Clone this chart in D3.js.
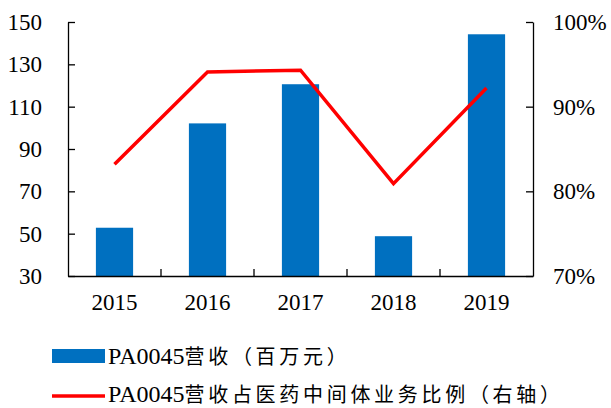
<!DOCTYPE html>
<html>
<head>
<meta charset="utf-8">
<script src="https://cdn.jsdelivr.net/npm/d3@7/dist/d3.min.js"></script>
<style>
  html, body { margin: 0; padding: 0; background: #fff; }
  svg { display: block; }
  .tick text { font-family: "Liberation Serif", "Times New Roman", serif; font-size: 23px; fill: #000; }
</style>
</head>
<body>
<svg id="chart" width="611" height="408"></svg>
<script>
// Revenue of PA0045 (million yuan) and its share of pharma-intermediate business
const years = ["2015", "2016", "2017", "2018", "2019"];
const revenue = [52.8, 102.1, 120.6, 48.8, 144.2];
const share = [0.832, 0.941, 0.943, 0.809, 0.922];
const leftTicks = [30, 50, 70, 90, 110, 130, 150];
const rightTicks = [0.7, 0.8, 0.9, 1.0];
const legendLabels = ["PA0045营收（百万元）", "PA0045营收占医药中间体业务比例（右轴）"];

const svg = d3.select("#chart");
const m = { left: 68, right: 533, top: 22, bottom: 276 };

const x = d3.scaleBand().domain(years).range([m.left, m.right]).paddingInner(0.6).paddingOuter(0.3);
const xc = d3.scaleBand().domain(years).range([m.left, m.right]);
const yL = d3.scaleLinear().domain([30, 150]).range([m.bottom, m.top]);
const yR = d3.scaleLinear().domain([0.7, 1.0]).range([m.bottom, m.top]);

// bars
svg.append("g").selectAll("rect").data(years).join("rect")
  .attr("x", d => x(d))
  .attr("width", x.bandwidth())
  .attr("y", (d, i) => yL(revenue[i]))
  .attr("height", (d, i) => yL(30) - yL(revenue[i]))
  .attr("fill", "#0070C0");

// axes
const axisStyle = g => {
  g.selectAll(".domain").attr("stroke", "#000").attr("stroke-width", 1.3);
  g.selectAll(".tick line").attr("stroke", "#000").attr("stroke-width", 1.3);
};

svg.append("g")
  .attr("transform", `translate(${m.left},0)`)
  .call(d3.axisRight(yL).tickValues(leftTicks).tickSize(7).tickSizeOuter(0).tickFormat(d3.format("d")))
  .call(axisStyle)
  .call(g => g.selectAll(".tick text").attr("x", -26).attr("text-anchor", "end"));

svg.append("g")
  .attr("transform", `translate(${m.right},0)`)
  .call(d3.axisLeft(yR).tickValues(rightTicks).tickSize(7).tickSizeOuter(0).tickFormat(d3.format(".0%")))
  .call(axisStyle)
  .call(g => g.selectAll(".tick text").attr("x", 20).attr("text-anchor", "start"));

// x axis: category labels centred, boundary ticks pointing upward
const xAxis = svg.append("g")
  .attr("transform", `translate(0,${m.bottom})`)
  .call(d3.axisBottom(xc).tickSize(0).tickSizeOuter(0))
  .call(axisStyle)
  .call(g => g.selectAll(".tick text").attr("dy", 0).attr("y", 34));
xAxis.selectAll(".bound").data(years.slice(1)).join("line")
  .attr("class", "bound")
  .attr("x1", d => xc(d)).attr("x2", d => xc(d))
  .attr("y1", 0).attr("y2", -7)
  .attr("stroke", "#000").attr("stroke-width", 1.3);

// share line
const line = d3.line()
  .x((d, i) => xc(years[i]) + xc.bandwidth() / 2)
  .y(d => yR(d));
svg.append("path")
  .datum(share)
  .attr("d", line)
  .attr("fill", "none")
  .attr("stroke", "#FF0000")
  .attr("stroke-width", 3.5);

// legend
const lg = svg.append("g");
lg.append("rect").attr("x", 52).attr("y", 349).attr("width", 53).attr("height", 14).attr("fill", "#0070C0");
lg.append("line").attr("x1", 52).attr("x2", 105).attr("y1", 396).attr("y2", 396)
  .attr("stroke", "#FF0000").attr("stroke-width", 3.5);

function legendText(yPos, label) {
  const t = lg.append("text").attr("x", 108).attr("y", yPos).attr("fill", "#000");
  const latin = label.match(/^[A-Za-z0-9]+/)[0];
  t.append("tspan").text(latin)
    .style("font-family", '"Liberation Serif", serif').style("font-size", "24px");
  t.append("tspan").text(label.slice(latin.length))
    .style("font-family", '"Noto Sans CJK SC", sans-serif').style("font-size", "20px")
    .style("letter-spacing", "3.7px");
}
legendText(364, legendLabels[0]);
legendText(402, legendLabels[1]);
</script>
</body>
</html>
